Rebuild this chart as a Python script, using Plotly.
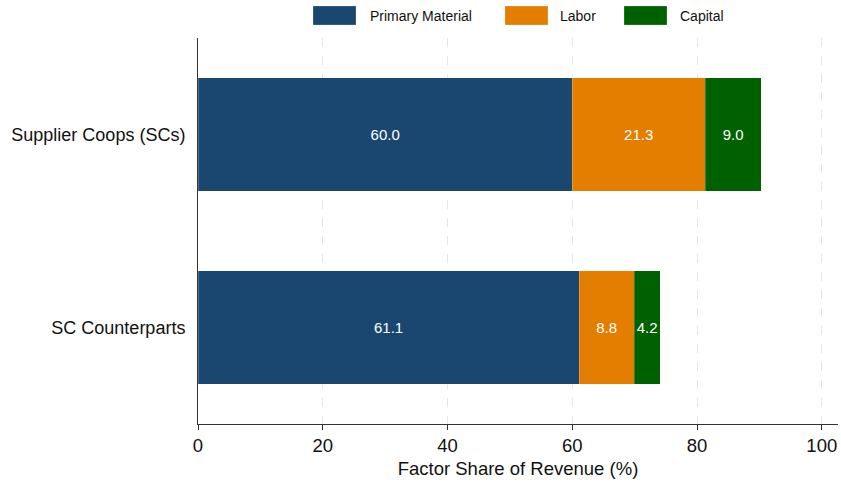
import plotly.graph_objects as go

# data
groups = ["Supplier Coops (SCs)", "SC Counterparts"]
primary_material = [60.0, 61.1]
labor = [21.3, 8.8]
capital = [9.0, 4.2]
x_ticks = [0, 20, 40, 60, 80, 100]

FONT = "Liberation Sans, Arial, Helvetica, sans-serif"
NAVY = "#1a476f"
ORANGE = "#e37e00"
GREEN = "#006100"

series = [
    ("Primary Material", primary_material, NAVY),
    ("Labor", labor, ORANGE),
    ("Capital", capital, GREEN),
]

W, H = 841, 487
ML, MR, MT, MB = 198, 3, 38, 63
PW, PH = W - ML - MR, H - MT - MB


def px_x(px):
    return (px - ML) / PW


def px_y(py):
    return (H - MB - py) / PH


fig = go.Figure()

for name, vals, color in series:
    fig.add_trace(go.Bar(
        y=groups,
        x=vals,
        name=name,
        orientation="h",
        width=0.59,
        marker=dict(color=color, line=dict(width=0.6, color="rgba(255,255,255,0.35)")),
        text=[f"{v:.1f}" for v in vals],
        textposition="inside",
        insidetextanchor="middle",
        textangle=0,
        constraintext="none",
        textfont=dict(color="white", size=15, family=FONT),
        hovertemplate="%{y}: %{x:.1f}<extra>" + name + "</extra>",
        showlegend=False,
    ))

# legend drawn as wide swatches above the plot, like the original
legend_slots = [(313, 368), (505, 558), (624, 678)]
shapes, annotations = [], []
for (name, _, color), (sx, tx) in zip(series, legend_slots):
    shapes.append(dict(
        type="rect", xref="paper", yref="paper",
        x0=px_x(sx), x1=px_x(sx + 43), y0=px_y(25), y1=px_y(6),
        fillcolor=color, line=dict(width=0.6, color="rgba(255,255,255,0.4)"),
    ))
    annotations.append(dict(
        text=name, xref="paper", yref="paper",
        x=px_x(tx), y=px_y(15.5), xanchor="left", yanchor="middle",
        showarrow=False, font=dict(size=14, family=FONT, color="#111111"),
    ))

fig.update_layout(
    barmode="stack",
    width=W,
    height=H,
    paper_bgcolor="white",
    plot_bgcolor="white",
    margin=dict(l=ML, r=MR, t=MT, b=MB),
    font=dict(family=FONT, color="#111111"),
    showlegend=False,
    shapes=shapes,
    annotations=annotations,
)

fig.update_xaxes(
    range=[0, 102.6],
    tickvals=x_ticks,
    ticks="outside",
    ticklen=5,
    tickcolor="#333333",
    tickfont=dict(size=18.5, family=FONT),
    showline=True,
    linecolor="#333333",
    linewidth=1,
    showgrid=True,
    gridcolor="#e6e6e6",
    griddash="dash",
    gridwidth=1,
    zeroline=False,
    title=dict(text="Factor Share of Revenue (%)", font=dict(size=18.5, family=FONT), standoff=6),
)

fig.update_yaxes(
    categoryorder="array",
    categoryarray=groups[::-1],
    range=[-0.5, 1.5],
    showline=True,
    linecolor="#333333",
    linewidth=1,
    showgrid=False,
    ticks="",
    ticklabelstandoff=8,
    tickfont=dict(size=18, family=FONT),
)

fig.write_html(
    "out.html",
    config={"displayModeBar": False},
    post_script="document.body.style.margin='0';",
)
